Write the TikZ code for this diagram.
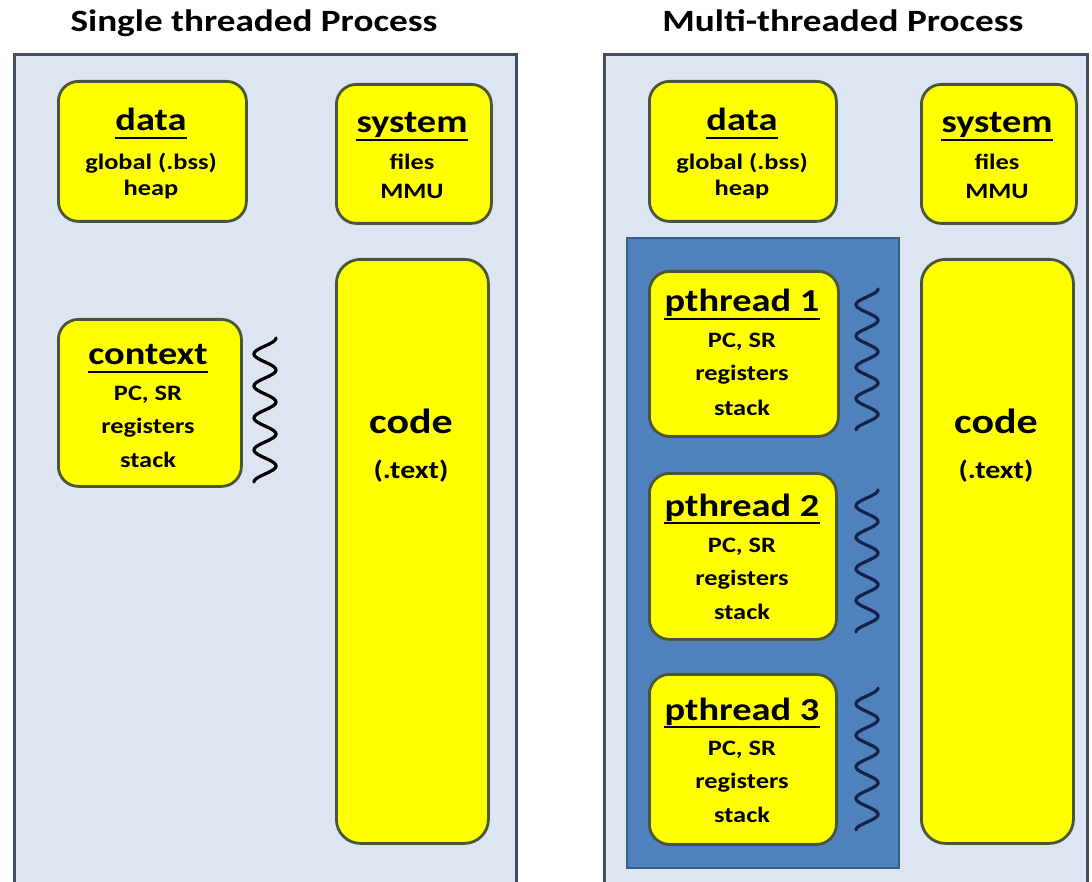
\documentclass[tikz,border=0pt]{standalone}
\usepackage{fontspec}
\setmainfont{Carlito}[FakeStretch=1.2]
\definecolor{bgblue}{HTML}{DCE5F1}
\definecolor{outerline}{HTML}{404E60}
\definecolor{ybox}{HTML}{FFFF00}
\definecolor{yline}{HTML}{4A563A}
\definecolor{tblue}{HTML}{4F81BD}
\definecolor{tline}{HTML}{3A5C88}
\definecolor{navy}{HTML}{14224A}
\tikzset{
  outerbox/.style={fill=bgblue, draw=outerline, line width=3pt, inner sep=0pt},
  yellowbox/.style={fill=ybox, draw=yline, line width=2.8pt, rounded corners=20pt, inner sep=0pt},
  codebox/.style={yellowbox, rounded corners=24pt},
  threadbox/.style={fill=tblue, draw=tline, line width=2pt, inner sep=0pt},
  titletext/.style={font=\bfseries\fontsize{31}{31}\selectfont, inner sep=0pt, anchor=base},
  headtext/.style={font=\bfseries\fontsize{32}{32}\selectfont, inner sep=0pt, anchor=base},
  subtext/.style={font=\bfseries\fontsize{22}{22}\selectfont, inner sep=0pt, anchor=base},
  codetext/.style={font=\bfseries\fontsize{35}{35}\selectfont, inner sep=0pt, anchor=base},
  codesub/.style={font=\bfseries\fontsize{25}{25}\selectfont, inner sep=0pt, anchor=base},
  uline/.style={line width=2pt, black},
  wave/.style={line width=3.2pt, line cap=round},
}
\newcommand{\boxat}[6]{%
  \node[#6, anchor=north west, minimum width={(#4-#2)*1pt}, minimum height={(#5-#3)*1pt}] (#1) at (#2,#3) {};}
\newcommand{\heading}[4]{%
  \node[headtext] (#1) at (#2,#3) {#4};
  \draw[uline] ([yshift=-7pt]#1.base west) -- ([yshift=-7pt]#1.base east);}
\newcommand{\squiggle}[4]{% color, cx, ytop, ybottom
  \draw[wave, #1, domain=0:4.5, samples=150, variable=\t, smooth]
    plot ({#2 + 11*cos(\t*360)}, {#3 + \t*(#4-#3)/4.5});}
\begin{document}
\begin{tikzpicture}[x=1pt, y=-1pt]
\clip (0,0) rectangle (1092,882);
\fill[white] (0,0) rectangle (1092,882);

% titles
\node[titletext] (t1) at (254,32) {Single threaded Process};
\node[titletext] (t2) at (843,32) {Multi-threaded Process};

% outer process boxes
\boxat{L}{13}{53}{515}{888}{outerbox}
\boxat{R}{603}{53}{1086}{888}{outerbox}

% ---- single threaded ----
\boxat{Ldata}{57}{80}{245}{220}{yellowbox}
\heading{Ldatah}{151}{131}{data}
\node[subtext] (Ldata1) at (151,170) {global (.bss)};
\node[subtext] (Ldata2) at (151,196) {heap};

\boxat{Lsys}{335}{83}{490}{222}{yellowbox}
\heading{Lsysh}{412}{133}{system}
\node[subtext] (Lsys1) at (412,170) {files};
\node[subtext] (Lsys2) at (412,199) {MMU};

\boxat{Lcode}{335}{258}{487}{842}{codebox}
\node[codetext] (Lcodeh) at (411,433) {code};
\node[codesub] (Lcode1) at (411,478) {(.text)};

\boxat{Lctx}{57}{318}{240}{485}{yellowbox}
\heading{Lctxh}{148}{365}{context}
\node[subtext] (Lctx1) at (148,400) {PC, SR};
\node[subtext] (Lctx2) at (148,433) {registers};
\node[subtext] (Lctx3) at (148,467) {stack};
\squiggle{black}{265}{338}{482}

% ---- multi threaded ----
\boxat{Rdata}{648}{80}{835}{220}{yellowbox}
\heading{Rdatah}{742}{131}{data}
\node[subtext] (Rdata1) at (742,170) {global (.bss)};
\node[subtext] (Rdata2) at (742,196) {heap};

\boxat{Rsys}{920}{83}{1075}{222}{yellowbox}
\heading{Rsysh}{997}{133}{system}
\node[subtext] (Rsys1) at (997,170) {files};
\node[subtext] (Rsys2) at (997,199) {MMU};

\boxat{Rcode}{920}{258}{1072}{842}{codebox}
\node[codetext] (Rcodeh) at (996,433) {code};
\node[codesub] (Rcode1) at (996,478) {(.text)};

\boxat{Thr}{626}{237}{898}{867}{threadbox}

\boxat{P1}{648}{270}{837}{435}{yellowbox}
\heading{P1h}{742}{312}{pthread 1}
\node[subtext] (P1a) at (742,348) {PC, SR};
\node[subtext] (P1b) at (742,381) {registers};
\node[subtext] (P1c) at (742,415) {stack};
\squiggle{navy}{867}{289}{430}

\boxat{P2}{648}{472}{835}{638}{yellowbox}
\heading{P2h}{742}{516}{pthread 2}
\node[subtext] (P2a) at (742,552) {PC, SR};
\node[subtext] (P2b) at (742,585) {registers};
\node[subtext] (P2c) at (742,619) {stack};
\squiggle{navy}{867}{490}{632}

\boxat{P3}{648}{673}{835}{843}{yellowbox}
\heading{P3h}{742}{720}{pthread 3}
\node[subtext] (P3a) at (742,755) {PC, SR};
\node[subtext] (P3b) at (742,788) {registers};
\node[subtext] (P3c) at (742,822) {stack};
\squiggle{navy}{867}{688}{830}
\end{tikzpicture}
\end{document}
